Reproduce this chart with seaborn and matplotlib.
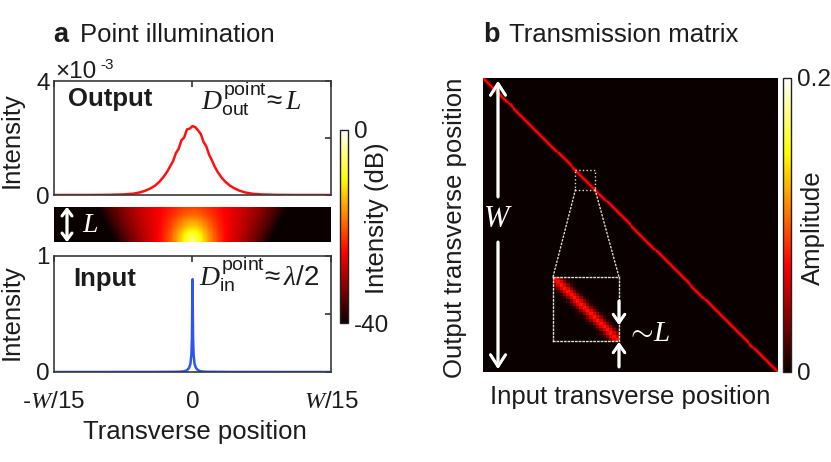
import numpy as np
import matplotlib
matplotlib.use('Agg')
import matplotlib.pyplot as plt
import seaborn as sns
from matplotlib.patches import Rectangle, ConnectionPatch

sns.set_theme(style='white')
plt.rcParams['font.family'] = ['Liberation Sans', 'DejaVu Sans']
plt.rcParams['text.color'] = '#1c1c1c'
plt.rcParams['xtick.color'] = '#1c1c1c'
plt.rcParams['ytick.color'] = '#1c1c1c'
plt.rcParams['mathtext.fontset'] = 'custom'
plt.rcParams['mathtext.rm'] = 'Liberation Sans'
plt.rcParams['mathtext.sf'] = 'Liberation Sans'
plt.rcParams['mathtext.it'] = 'Liberation Serif:italic'
plt.rcParams['mathtext.bf'] = 'Liberation Sans:bold'

# --- data ---
# output intensity (x1e-3) vs transverse position (units of W/15)
out_x = [-1.0, -0.75, -0.6, -0.5, -0.43, -0.38, -0.34, -0.30, -0.27, -0.24, -0.21,
         -0.18, -0.16, -0.14, -0.12, -0.10, -0.08, -0.06, -0.04, -0.02, 0.0,
         0.02, 0.04, 0.06, 0.08, 0.10, 0.12, 0.14, 0.16, 0.18, 0.21, 0.24, 0.27,
         0.30, 0.34, 0.38, 0.43, 0.5, 0.6, 0.75, 1.0]
out_y = [0.0, 0.001, 0.006, 0.02, 0.045, 0.09, 0.15, 0.24, 0.33, 0.46, 0.63,
         0.84, 1.02, 1.19, 1.47, 1.62, 1.92, 2.02, 2.30, 2.33, 2.42,
         2.38, 2.27, 2.14, 1.86, 1.70, 1.41, 1.22, 1.00, 0.82, 0.61, 0.45, 0.33,
         0.24, 0.15, 0.09, 0.045, 0.02, 0.006, 0.001, 0.0]

# input intensity vs transverse position
in_x = [-1.0, -0.3, -0.1, -0.06, -0.04, -0.025, -0.015, -0.008, -0.004, 0.0,
        0.004, 0.008, 0.015, 0.025, 0.04, 0.06, 0.1, 0.3, 1.0]
in_y = [0.0, 0.0005, 0.002, 0.006, 0.015, 0.035, 0.07, 0.15, 0.30, 0.80,
        0.30, 0.15, 0.07, 0.035, 0.015, 0.006, 0.002, 0.0005, 0.0]

# field in the waveguide (dB): broad guided part + point-source spot
broad_peak_db = -24.0
broad_width_bottom = 0.29
broad_width_top = 0.36
spot_peak_db = -4.0
spot_slope_db = 7.0
spot_width_x = 0.065
spot_width_z = 0.33

# transmission matrix: amplitude along the diagonal band (offset 0..4)
tm_size = 300
tm_band = [0.078, 0.062, 0.036, 0.014, 0.004]
zoom_lo, zoom_hi = 94, 114

# --- build tables ---
xs = np.linspace(-1, 1, 221)
zs = np.linspace(1, 0, 32)
X, Z = np.meshgrid(xs, zs)
bw = broad_width_bottom + (broad_width_top - broad_width_bottom) * Z
r = np.sqrt((X / spot_width_x) ** 2 + (Z / spot_width_z) ** 2)
power = 10 ** (broad_peak_db / 10) * np.exp(-(X / bw) ** 2) \
    + 10 ** ((spot_peak_db - spot_slope_db * r) / 10)
strip_db = np.clip(10 * np.log10(power), -40, 0)

tm = np.zeros((tm_size, tm_size))
for k, v in enumerate(tm_band):
    tm += v * np.eye(tm_size, k=k)
    if k > 0:
        tm += v * np.eye(tm_size, k=-k)

# --- figure ---
fig = plt.figure(figsize=(8.31, 4.62), dpi=100)


def box(l, t, r_, b):
    return [l / 831, 1 - b / 462, (r_ - l) / 831, (b - t) / 462]


def P(x, y):
    return (x / 831, 1 - y / 462)


ax_out = fig.add_axes(box(54, 81, 331, 195))
ax_strip = fig.add_axes(box(54, 207, 331, 242))
ax_in = fig.add_axes(box(54, 256, 331, 372))
cax_a = fig.add_axes(box(340, 130, 348, 323))
ax_tm = fig.add_axes(box(483, 78, 778, 372))
cax_b = fig.add_axes(box(783, 78, 791, 372))

FS = 18.5
TS = 17.5
spine_c = '#3a3a3a'

sns.lineplot(x=out_x, y=out_y, ax=ax_out, color='#ff1010', lw=1.8)
sns.lineplot(x=in_x, y=in_y, ax=ax_in, color='#2d55f5', lw=1.8)

for ax, top in [(ax_out, 4), (ax_in, 1)]:
    ax.set_xlim(-1, 1)
    ax.set_ylim(0, top)
    ax.set_yticks([0, top / 2, top])
    ax.set_yticklabels(['0', '', f'{top}'])
    ax.set_xticks([-1, 0, 1])
    ax.tick_params(direction='in', top=True, right=True, length=4,
                   labelsize=TS, pad=3, color=spine_c)
    for s in ax.spines.values():
        s.set_color(spine_c)
        s.set_linewidth(1.2)
    ax.set_xlabel('')
    ax.set_ylabel('')
ax_out.set_xticklabels([])
ax_in.set_xticklabels([r'-$W$/15', '0', r'$W$/15'])
ax_in.tick_params(axis='x', pad=14)

sns.heatmap(strip_db, ax=ax_strip, cmap='hot', vmin=-40, vmax=0, cbar_ax=cax_a,
            xticklabels=False, yticklabels=False, rasterized=True)
cb_a = ax_strip.collections[0].colorbar
cb_a.set_ticks([-40, 0])
cb_a.set_ticklabels(['-40', '0'])
cb_a.ax.tick_params(labelsize=TS, length=0, pad=4)
cb_a.outline.set_edgecolor('#222222')
cb_a.outline.set_linewidth(1.0)

sns.heatmap(tm, ax=ax_tm, cmap='hot', vmin=0, vmax=0.2, cbar_ax=cax_b,
            xticklabels=False, yticklabels=False, rasterized=True)
cb_b = ax_tm.collections[0].colorbar
cb_b.set_ticks([0, 0.2])
cb_b.set_ticklabels(['0', '0.2'])
cb_b.ax.tick_params(labelsize=TS, length=0, pad=4)
cb_b.outline.set_edgecolor('#222222')
cb_b.outline.set_linewidth(1.0)

# zoomed inset of the diagonal
ax_ins = fig.add_axes(box(553, 277, 619, 341))
sns.heatmap(tm[zoom_lo:zoom_hi, zoom_lo:zoom_hi], ax=ax_ins, cmap='hot', vmin=0,
            vmax=0.2, cbar=False, xticklabels=False, yticklabels=False)
for s in ax_ins.spines.values():
    s.set_visible(True)
    s.set_color('#dddddd')
    s.set_linestyle(':')
    s.set_linewidth(1.0)
n = zoom_hi - zoom_lo
ax_tm.add_patch(Rectangle((zoom_lo, zoom_lo), n, n, fill=False, ec='#dddddd',
                          ls=':', lw=1.0))
for xa, xb in [(zoom_lo, 0), (zoom_hi, 1)]:
    con = ConnectionPatch(xyA=(xa, zoom_hi), coordsA=ax_tm.transData,
                          xyB=(xb, 1), coordsB=ax_ins.transAxes,
                          color='#dddddd', ls=':', lw=1.0)
    fig.add_artist(con)

# arrows and annotations
wa = dict(arrowstyle='->,head_length=0.7,head_width=0.45', color='white', lw=2,
          shrinkA=0, shrinkB=0)
fig.add_artist(plt.annotate('', xy=P(498, 81), xytext=P(498, 197),
                            xycoords='figure fraction', arrowprops=wa))
fig.add_artist(plt.annotate('', xy=P(498, 369), xytext=P(498, 242),
                            xycoords='figure fraction', arrowprops=wa))
fig.text(*P(498, 219), r'$W$', color='white', fontsize=22, ha='center', va='center')

sa = dict(arrowstyle='->,head_length=0.5,head_width=0.35', color='white', lw=2,
          shrinkA=0, shrinkB=0)
fig.add_artist(plt.annotate('', xy=P(619, 325), xytext=P(619, 301),
                            xycoords='figure fraction', arrowprops=sa))
fig.add_artist(plt.annotate('', xy=P(619, 342), xytext=P(619, 367),
                            xycoords='figure fraction', arrowprops=sa))
fig.text(*P(626, 333), r'$\sim\!L$', color='white', fontsize=21, ha='left', va='center')

fig.add_artist(plt.annotate('', xy=P(67, 207), xytext=P(67, 242),
                            xycoords='figure fraction',
                            arrowprops=dict(arrowstyle='<->,head_length=0.4,head_width=0.3',
                                            color='white', lw=2, shrinkA=0, shrinkB=0)))
fig.text(*P(82, 225), r'$L$', color='white', fontsize=20, ha='left', va='center')

ax_out.text(0.05, 0.78, 'Output', transform=ax_out.transAxes, fontsize=FS,
            fontweight='bold', va='baseline')
ax_out.text(*P(201, 110), r'$D_{\mathrm{out}}^{\mathrm{point}}\!\approx L$',
            transform=fig.transFigure, fontsize=20, va='baseline')
ax_in.text(0.07, 0.74, 'Input', transform=ax_in.transAxes, fontsize=FS,
           fontweight='bold', va='baseline')
ax_in.text(*P(199, 285), r'$D_{\mathrm{in}}^{\mathrm{point}}\!\approx \lambda/2$',
           transform=fig.transFigure, fontsize=20, va='baseline')
fig.text(*P(55, 78), '\u00d710', fontsize=TS, va='baseline')
fig.text(*P(100, 69), '-3', fontsize=11, va='baseline')

# titles and labels
fig.text(*P(53, 42), 'a', fontsize=FS + 1, fontweight='bold', va='baseline')
fig.text(*P(80, 42), 'Point illumination', fontsize=FS, va='baseline')
fig.text(*P(483, 42), 'b', fontsize=FS + 1, fontweight='bold', va='baseline')
fig.text(*P(509, 42), 'Transmission matrix', fontsize=FS, va='baseline')
fig.text(*P(12, 140), 'Intensity', fontsize=FS, rotation=90, ha='center', va='center')
fig.text(*P(12, 312), 'Intensity', fontsize=FS, rotation=90, ha='center', va='center')
fig.text(*P(195, 432), 'Transverse position', fontsize=FS, ha='center', va='center')
fig.text(*P(377, 218), 'Intensity (dB)', fontsize=FS, rotation=90, ha='center', va='center')
fig.text(*P(455, 228), 'Output transverse position', fontsize=FS, rotation=90,
         ha='center', va='center')
fig.text(*P(630, 397), 'Input transverse position', fontsize=FS, ha='center', va='center')
fig.text(*P(813, 228), 'Amplitude', fontsize=FS, rotation=90, ha='center', va='center')

fig.savefig('out.png', dpi=100, facecolor='white')
